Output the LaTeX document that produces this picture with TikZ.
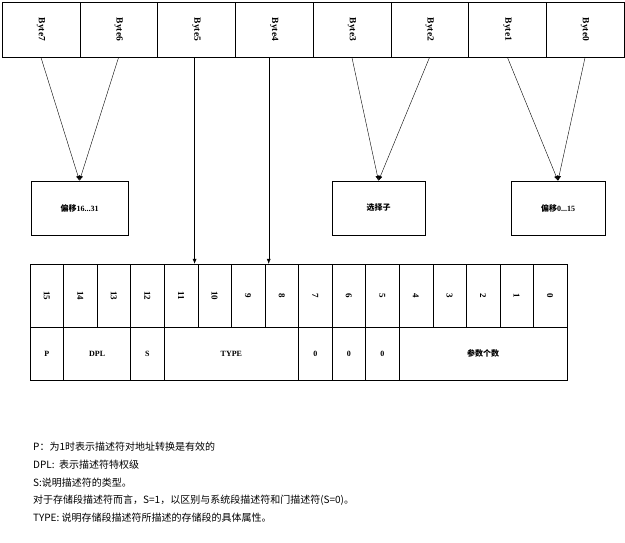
\documentclass[tikz,border=0pt]{standalone}
\usepackage{fontspec}
\setmainfont{Liberation Serif}
\newfontfamily\cjk{Noto Sans CJK SC}
\usetikzlibrary{arrows.meta}
\begin{document}
\begin{tikzpicture}[x=1pt,y=-1pt,
  cell/.style={draw,inner sep=0,font=\bfseries\fontsize{8}{9}\selectfont},
  arr/.style={-{Latex[length=5pt,width=4pt]}},
  note/.style={anchor=west,inner sep=0,font=\cjk\fontsize{10}{12}\selectfont}]
\useasboundingbox (0,0) rectangle (625,542);
% byte row
\foreach \i/\n in {0/7,1/6,2/5,3/4,4/3,5/2,6/1,7/0}{
  \node[cell,minimum width=77.75pt,minimum height=55pt,font=\bfseries\fontsize{9.5}{10}\selectfont] (b\n) at ({2+77.75*(\i+0.5)},29.5) {\rotatebox{-90}{Byte\n}};
}
% middle boxes
\node[cell,minimum width=97pt,minimum height=54pt] (m1) at (79.5,208) {{\cjk 偏移}16...31};
\node[cell,minimum width=93pt,minimum height=54pt] (m2) at (378.5,208) {\cjk 选择子};
\node[cell,minimum width=94pt,minimum height=54pt] (m3) at (558,208) {{\cjk 偏移}0...15};
% bit row
\foreach \i in {0,...,15}{
  \pgfmathtruncatemacro{\b}{15-\i}
  \node[cell,minimum width=33.56pt,minimum height=63pt,font=\bfseries\fontsize{9}{10}\selectfont] (t\b) at ({30+33.56*(\i+0.5)},295.5) {\rotatebox{-90}{\b}};
}
\node[cell,minimum width=33.56pt,minimum height=53pt] (f15) at ({30+33.56*0.5},353.5) {P};
\node[cell,minimum width=67.12pt,minimum height=53pt] (fdpl) at ({30+33.56*2},353.5) {DPL};
\node[cell,minimum width=33.56pt,minimum height=53pt] (fs) at ({30+33.56*3.5},353.5) {S};
\node[cell,minimum width=134.24pt,minimum height=53pt] (ftype) at ({30+33.56*6},353.5) {TYPE};
\node[cell,minimum width=33.56pt,minimum height=53pt] (f7) at ({30+33.56*8.5},353.5) {0};
\node[cell,minimum width=33.56pt,minimum height=53pt] (f6) at ({30+33.56*9.5},353.5) {0};
\node[cell,minimum width=33.56pt,minimum height=53pt] (f5) at ({30+33.56*10.5},353.5) {0};
\node[cell,minimum width=167.8pt,minimum height=53pt] (fp) at ({30+33.56*13.5},353.5) {\cjk 参数个数};
% connectors
\draw[arr] (b7.south) -- (m1.north);
\draw[arr] (b6.south) -- (m1.north);
\draw[arr] (b3.south) -- (m2.north);
\draw[arr] (b2.south) -- (m2.north);
\draw[arr] (b1.south) -- (m3.north);
\draw[arr] (b0.south) -- (m3.north);
\coordinate (c5) at ([xshift=-3pt]t10.north west);
\coordinate (c4) at ([xshift=4pt]t8.north west);
\draw[arr] (b5.south -| c5) -- (c5);
\draw[arr] (b4.south -| c4) -- (c4);
% notes
\node[note] (n1) at (33,447) {P：为1时表示描述符对地址转换是有效的};
\node[note] (n2) at (33,465) {DPL:\ \ 表示描述符特权级};
\node[note] (n3) at (33,483) {S:说明描述符的类型。};
\node[note] (n4) at (33,500) {对于存储段描述符而言，S=1，以区别与系统段描述符和门描述符(S=0)。};
\node[note] (n5) at (33,518) {TYPE: 说明存储段描述符所描述的存储段的具体属性。};
\end{tikzpicture}
\end{document}
